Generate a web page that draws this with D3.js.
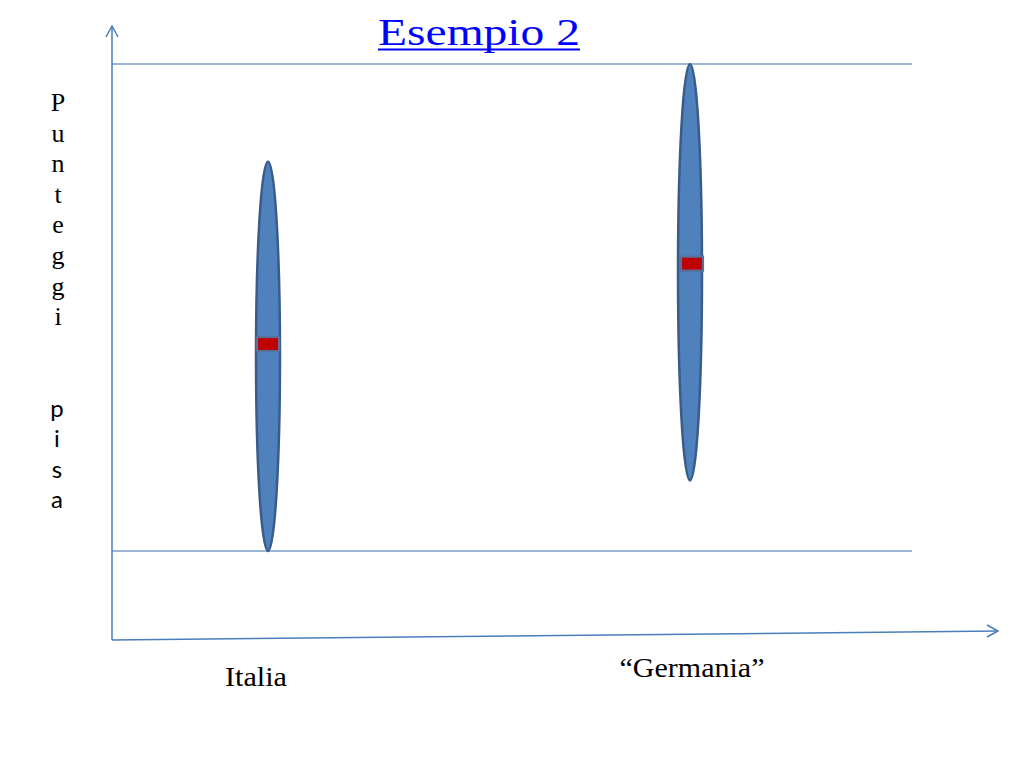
<!DOCTYPE html>
<html><head><meta charset="utf-8">
<script src="https://cdn.jsdelivr.net/npm/d3@7"></script>
<style>html,body{margin:0;padding:0;background:#fff;}svg{display:block;}</style>
</head><body>
<svg id="c" width="1024" height="768"></svg>
<script>
const categories = ["Italia", "\u201cGermania\u201d"];
const lowValues  = [0, 14.5];
const highValues = [80, 100];
const meanValues = [42.5, 59];
const refLines   = [0, 100];
const yLetters1 = "Punteggi".split("");
const yLetters2 = "pisa".split("");

const svg = d3.select("#c");
const x = d3.scalePoint().domain(categories).range([268, 690]);
const y = d3.scaleLinear().domain([0, 100]).range([551, 64]);

const axisColor = "#4a7ebb";
const ox = 112, oy = 640;

// reference horizontal lines
svg.selectAll("line.ref").data(refLines).enter().append("line")
  .attr("x1", ox).attr("x2", 912)
  .attr("y1", d => y(d)).attr("y2", d => y(d))
  .attr("stroke", "#7a9cc8").attr("stroke-width", 1.3);

// axes
svg.append("line").attr("x1", ox).attr("y1", oy).attr("x2", ox).attr("y2", 26)
  .attr("stroke", axisColor).attr("stroke-width", 1.5);
svg.append("path").attr("d", `M${ox-6},${37} L${ox},${26} L${ox+6},${37}`)
  .attr("fill", "none").attr("stroke", axisColor).attr("stroke-width", 1.5);
svg.append("line").attr("x1", ox).attr("y1", oy).attr("x2", 998).attr("y2", 631)
  .attr("stroke", axisColor).attr("stroke-width", 1.5);
svg.append("path").attr("d", `M987,625 L998,631 L987,637`)
  .attr("fill", "none").attr("stroke", axisColor).attr("stroke-width", 1.5);

// ellipses
const rows = categories.map((c, i) => ({c, lo: lowValues[i], hi: highValues[i], m: meanValues[i]}));
svg.selectAll("ellipse.r").data(rows).enter().append("ellipse")
  .attr("cx", d => x(d.c))
  .attr("cy", d => (y(d.lo) + y(d.hi)) / 2)
  .attr("rx", 12)
  .attr("ry", d => (y(d.lo) - y(d.hi)) / 2)
  .attr("fill", "#4f81bd").attr("stroke", "#385d8a").attr("stroke-width", 2.5);

const meanDx = [0, 2];
svg.selectAll("rect.m").data(rows).enter().append("rect")
  .attr("x", (d, i) => x(d.c) + meanDx[i] - 11).attr("y", d => y(d.m) - 7)
  .attr("width", 22).attr("height", 14)
  .attr("fill", "#c00000").attr("stroke", "#5a6f9a").attr("stroke-width", 2.2);

// category labels
const labelDx = [-12, 2], labelY = [686, 677], labelLen = [62, 145];
svg.selectAll("text.cat").data(categories).enter().append("text")
  .attr("x", (d, i) => x(d) + labelDx[i]).attr("y", (d, i) => labelY[i])
  .attr("text-anchor", "middle")
  .attr("font-family", "Liberation Serif, Times New Roman, serif")
  .attr("font-size", 27)
  .attr("textLength", (d, i) => labelLen[i]).attr("lengthAdjust", "spacingAndGlyphs")
  .attr("fill", "#000").text(d => d);

// title
svg.append("text").attr("x", 479).attr("y", 45).attr("text-anchor", "middle")
  .attr("font-family", "Liberation Serif, Times New Roman, serif")
  .attr("font-size", 38).attr("fill", "#0000ff")
  .attr("textLength", 202).attr("lengthAdjust", "spacingAndGlyphs")
  .text("Esempio 2");
svg.append("line").attr("x1", 378).attr("x2", 580).attr("y1", 49.5).attr("y2", 49.5)
  .attr("stroke", "#0000ff").attr("stroke-width", 2);

// vertical y-axis label
svg.selectAll("text.l1").data(yLetters1).enter().append("text")
  .attr("x", 58).attr("y", (d, i) => 111 + i * 30.6)
  .attr("text-anchor", "middle")
  .attr("font-family", "Liberation Serif, Times New Roman, serif")
  .attr("font-size", 26).attr("fill", "#000").text(d => d);
svg.selectAll("text.l2").data(yLetters2).enter().append("text")
  .attr("x", 57).attr("y", (d, i) => 417 + i * 30.3)
  .attr("text-anchor", "middle")
  .attr("font-family", "Lato, Open Sans, sans-serif")
  .attr("font-size", 24).attr("fill", "#000").text(d => d);
</script>
</body></html>
